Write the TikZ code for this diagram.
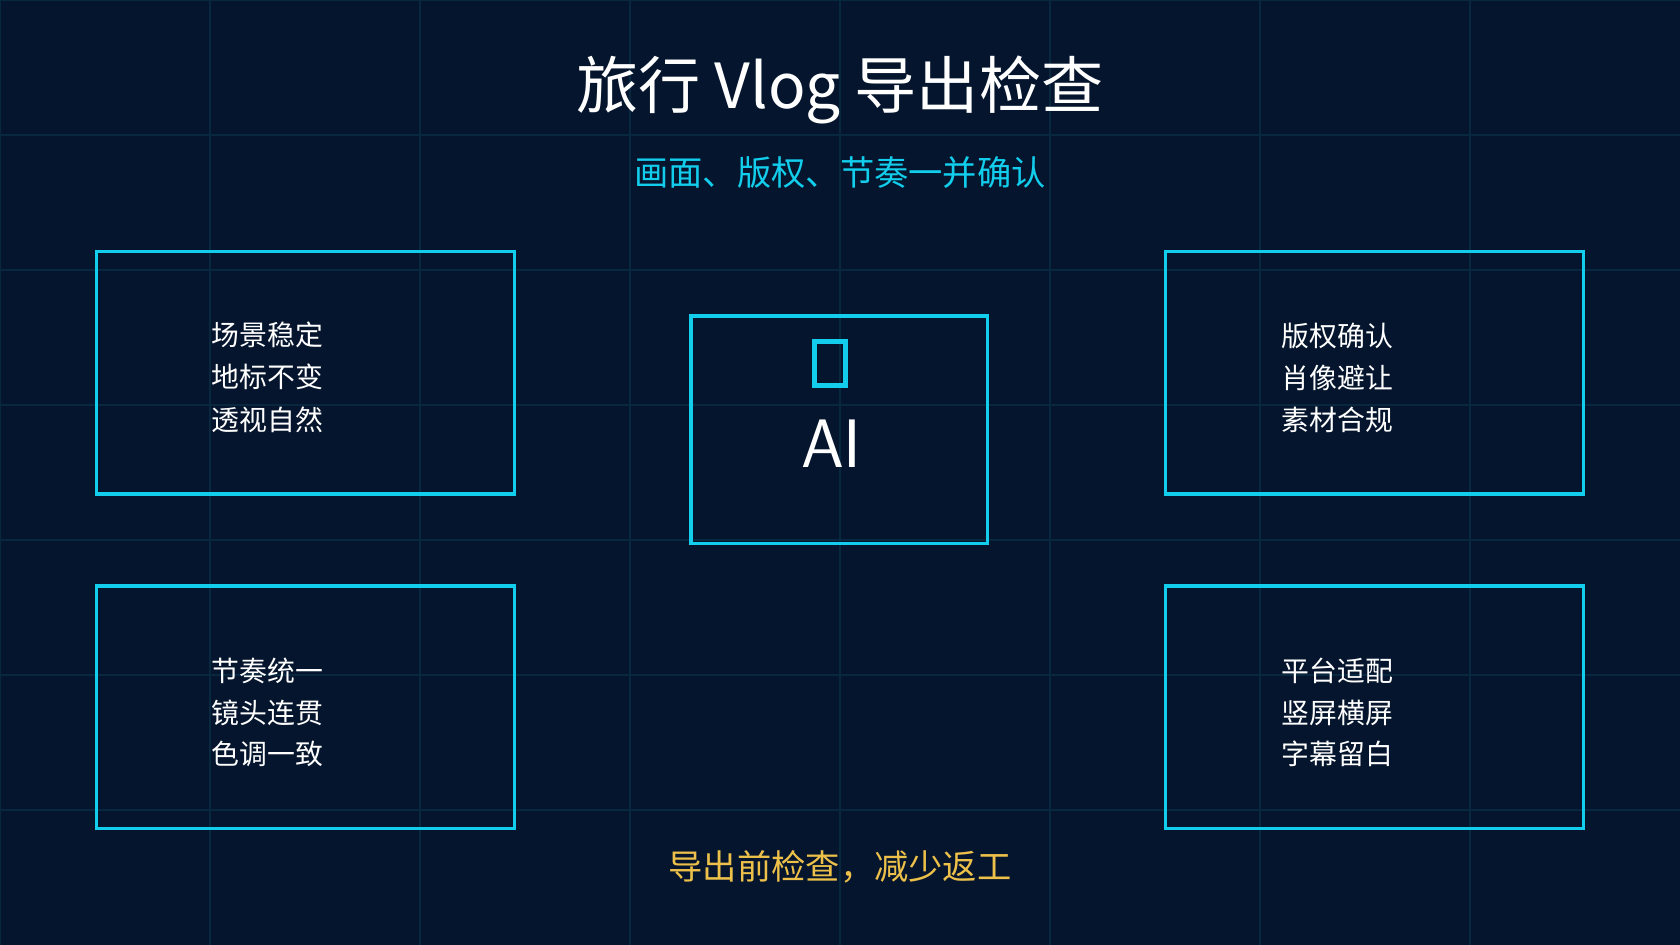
\documentclass[tikz,border=0pt]{standalone}
\usepackage{fontspec}
\setmainfont{Noto Sans CJK SC}
\definecolor{bg}{HTML}{04152D}
\definecolor{gridc}{HTML}{082840}
\definecolor{cy}{HTML}{12CDEB}
\definecolor{gold}{HTML}{EDC04A}
\begin{document}
\begin{tikzpicture}[x=0.5pt,y=-0.5pt,
  card/.style={draw=cy,line width=1.5pt},
  item/.style={anchor=west,text=white,font=\fontsize{13}{16}\selectfont,inner sep=0pt}]
\fill[bg] (0,0) rectangle (1568,882);
\useasboundingbox (0,0) rectangle (1568,882);
\foreach \x in {196,392,...,1372} \draw[gridc,line width=0.5pt] (\x,0)--(\x,882);
\foreach \y in {126,252,...,756} \draw[gridc,line width=0.5pt] (0,\y)--(1568,\y);
\draw[gridc,line width=0.8pt] (0,0.5)--(1568,0.5) (0.5,0)--(0.5,882);
\node[text=white,font=\fontsize{29}{34}\selectfont] (title) at (784,84) {旅行 Vlog 导出检查};
\node[text=cy,font=\fontsize{16}{19}\selectfont] (sub) at (784,161) {画面、版权、节奏一并确认};
\draw[card] (90,235) rectangle (480,461);
\draw[card] (1088,235) rectangle (1478,461);
\draw[card] (90,547) rectangle (480,773);
\draw[card] (1088,547) rectangle (1478,773);
\draw[card] (645,295) rectangle (922,507);
\draw[cy,line width=2.5pt] (760,319) rectangle (789,360);
\node[text=white,font=\fontsize{32}{38}\selectfont\sffamily] (ai) at (776,414) {AI};
\foreach \t/\y [count=\i] in {场景稳定/313,地标不变/352,透视自然/392} \node[item] (a\i) at (197,\y) {\t};
\foreach \t/\y [count=\i] in {版权确认/314,肖像避让/353,素材合规/392} \node[item] (b\i) at (1196,\y) {\t};
\foreach \t/\y [count=\i] in {节奏统一/626,镜头连贯/665,色调一致/704} \node[item] (c\i) at (197,\y) {\t};
\foreach \t/\y [count=\i] in {平台适配/626,竖屏横屏/665,字幕留白/704} \node[item] (d\i) at (1196,\y) {\t};
\node[text=gold,font=\fontsize{16}{19}\selectfont] (foot) at (784,809) {导出前检查，减少返工};
\end{tikzpicture}
\end{document}
